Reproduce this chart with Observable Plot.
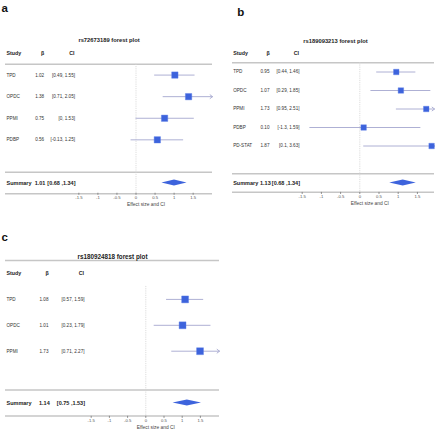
<!DOCTYPE html>
<html><head><meta charset="utf-8">
<script src="https://cdn.jsdelivr.net/npm/d3@7"></script>
<script src="https://cdn.jsdelivr.net/npm/@observablehq/plot@0.6"></script>
<style>
body{margin:0;background:#fff;}
#fig{position:relative;width:440px;height:433px;overflow:hidden;}
#fig > svg{position:absolute;}
</style></head><body><div id="fig"></div>
<script>
// ---------- data ----------
const tickValues = [-1.5, -1, -0.5, 0, 0.5, 1, 1.5];
const axisLabel = "Effect size and CI";

// panel a
const titleA = "rs72673189 forest plot";
const studiesA = ["TPD", "OPDC", "PPMI", "PDBP"];
const betaLabelsA = ["1.02", "1.38", "0.75", "0.56"];
const estA = [1.02, 1.38, 0.75, 0.56];
const loA = [0.49, 0.71, 0, -0.13];
const hiA = [1.55, 2.05, 1.53, 1.25];
const sumTextA = ["1.01", "[0.68 ,1.34]"];
const sumDrawA = [1.01, 0.68, 1.34];

// panel b
const titleB = "rs189093213 forest plot";
const studiesB = ["TPD", "OPDC", "PPMI", "PDBP", "PD-STAT"];
const betaLabelsB = ["0.95", "1.07", "1.73", "0.10", "1.87"];
const estB = [0.95, 1.07, 1.73, 0.10, 1.87];
const loB = [0.44, 0.29, 0.95, -1.3, 0.1];
const hiB = [1.46, 1.85, 2.51, 1.59, 3.63];
const sumTextB = ["1.13", "[0.68 ,1.34]"];
const sumDrawB = [1.13, 0.78, 1.47];

// panel c
const titleC = "rs180924818 forest plot";
const studiesC = ["TPD", "OPDC", "PPMI"];
const betaLabelsC = ["1.08", "1.01", "1.73"];
const estC = [1.08, 1.01, 1.49];
const loC = [0.57, 0.23, 0.71];
const hiC = [1.59, 1.79, 2.27];
const sumTextC = ["1.14", "[0.75 ,1.53]"];
const sumDrawC = [1.14, 0.75, 1.53];

// ---------- drawing ----------
const FONT = "'Liberation Sans', Arial, Helvetica, sans-serif";
const BLUE = "#3d63dc";
const CI_COLOR = "#aeb0d4";
const LINE = "#c6c6c6";

function forest(p, L) {
  const n = p.studies.length;
  const rows = p.studies.map((s, k) => ({
    study: s, i: k + 1, est: p.est[k], lo: p.lo[k], hi: p.hi[k],
    beta: p.betaLabels[k], ci: `[${p.lo[k]}, ${p.hi[k]}]`
  }));
  const sumIdx = n + 2;
  const yTop = 53, yBot = 182.5;
  const step = (yBot - yTop) / (n + 2);
  const xmin = (L.marginLeft - L.zeroPx) / L.unitPx;
  const xmax = (L.width - L.marginRight - L.zeroPx) / L.unitPx;
  const h = 3 / step;
  const [sEst, sLo, sHi] = p.sumDraw;
  const diamond = [
    {y: sumIdx - h, x1: sEst, x2: sEst},
    {y: sumIdx, x1: sLo, x2: sHi},
    {y: sumIdx + h, x1: sEst, x2: sEst}
  ];
  const inside = rows.filter(d => d.hi <= xmax);
  const clipped = rows.filter(d => d.hi > xmax);
  const txt = {fontSize: 4.6, fill: "#333"};
  const hdr = {fontSize: 5.3, fontWeight: "bold", fill: "#222"};
  const sum = {fontSize: 5.5, fontWeight: "bold", fill: "#222"};
  const chart = Plot.plot({
    width: L.width, height: L.height,
    marginLeft: L.marginLeft, marginRight: L.marginRight,
    marginTop: 0, marginBottom: L.marginBottom,
    style: {fontFamily: FONT, background: "transparent", overflow: "visible"},
    x: {domain: [xmin, xmax]},
    y: {type: "linear", domain: [0, n + 2], range: [yTop, yBot], axis: null},
    marks: [
      Plot.ruleY([L.topLine, n + 1.5, n + 2.5], {stroke: LINE, strokeWidth: 1.4}),
      Plot.ruleX([0], {y1: 0.5, y2: n + 2.5, stroke: "#d4d4d4", strokeWidth: 0.8, strokeDasharray: "1.2,1"}),
      Plot.ruleY(inside, {y: "i", x1: "lo", x2: "hi", stroke: CI_COLOR, strokeWidth: 1}),
      Plot.arrow(clipped, {x1: "lo", y1: "i", x2: () => xmax, y2: "i", bend: 0,
        headLength: 4.5, headAngle: 75, stroke: CI_COLOR, strokeWidth: 1}),
      Plot.dot(rows, {x: "est", y: "i", symbol: "square", r: L.r, fill: BLUE, stroke: "#5b7fe8", strokeWidth: 0.4}),
      Plot.areaX(diamond, {y: "y", x1: "x1", x2: "x2", fill: BLUE, curve: "linear"}),
      // header
      Plot.text(["Study"], {y: () => 0, frameAnchor: "left", textAnchor: "start", dx: L.studyDx, ...hdr}),
      Plot.text(["β"], {y: () => 0, frameAnchor: "left", textAnchor: "middle", dx: L.betaDx + 7.5, ...hdr}),
      Plot.text(["CI"], {y: () => 0, frameAnchor: "left", textAnchor: "end", dx: L.ciDx - 0.5, ...hdr}),
      // rows
      Plot.text(rows, {y: "i", text: "study", frameAnchor: "left", textAnchor: "start", dx: L.studyDx, ...txt}),
      Plot.text(rows, {y: "i", text: "beta", frameAnchor: "left", textAnchor: "start", dx: L.betaDx, ...txt}),
      Plot.text(rows, {y: "i", text: "ci", frameAnchor: "left", textAnchor: "end", dx: L.ciDx, ...txt}),
      // summary
      Plot.text(["Summary"], {y: () => sumIdx, frameAnchor: "left", textAnchor: "start", dx: L.studyDx, ...sum}),
      Plot.text([p.sumText[0]], {y: () => sumIdx, frameAnchor: "left", textAnchor: "start", dx: L.betaDx - 0.5, ...sum}),
      Plot.text([p.sumText[1]], {y: () => sumIdx, frameAnchor: "left", textAnchor: "end", dx: L.ciDx + 0.5, ...sum}),
      // title and panel letter
      Plot.text([p.title], {frameAnchor: "top", dy: L.titleY, dx: L.titleDx, fontSize: L.titleSize, fontWeight: "bold", fill: "#222"}),
      Plot.text([p.letter], {frameAnchor: "top-left", dx: L.letterDx, dy: L.letterY, fontSize: 11.5, fontWeight: "bold", fill: "#111", textAnchor: "start"}),
      // axis
      Plot.axisX({ticks: tickValues, tickFormat: d => String(d), tickSize: 2, tickPadding: 1.1,
        fontSize: 4.2, label: null, stroke: "#888", color: "#555"}),
      Plot.text([axisLabel], {x: () => 0, frameAnchor: "bottom", dy: L.axisLabelDy, dx: 10, fontSize: 4.9, fill: "#444"})
    ]
  });
  chart.style.left = L.left + "px";
  chart.style.top = L.top + "px";
  return chart;
}

const fig = document.getElementById("fig");
fig.appendChild(forest(
  {title: titleA, letter: "a", studies: studiesA, betaLabels: betaLabelsA, est: estA, lo: loA, hi: hiA, sumText: sumTextA, sumDraw: sumDrawA},
  {left: 0, top: 0, width: 215, height: 210, marginLeft: 5, marginRight: 3, marginBottom: 17.25,
   zeroPx: 135.5, unitPx: 38.1, topLine: 0.5, r: 3.6,
   studyDx: 1, betaDx: 29.7, ciDx: 69.5, titleY: 37, titleDx: 0, titleSize: 5.8,
   letterDx: -4, letterY: 3.5, axisLabelDy: 12.6}));
fig.appendChild(forest(
  {title: titleB, letter: "b", studies: studiesB, betaLabels: betaLabelsB, est: estB, lo: loB, hi: hiB, sumText: sumTextB, sumDraw: sumDrawB},
  {left: 220, top: 0, width: 220, height: 210, marginLeft: 12, marginRight: 6, marginBottom: 18.1,
   zeroPx: 139.3, unitPx: 38.4, topLine: 0.5, r: 3.1,
   studyDx: 0.7, betaDx: 28, ciDx: 67, titleY: 38.5, titleDx: 2, titleSize: 5.8,
   letterDx: 4.7, letterY: 7, axisLabelDy: 12.6}));
fig.appendChild(forest(
  {title: titleC, letter: "c", studies: studiesC, betaLabels: betaLabelsC, est: estC, lo: loC, hi: hiC, sumText: sumTextC, sumDraw: sumDrawC},
  {left: 0, top: 220, width: 222, height: 213, marginLeft: 5, marginRight: 3, marginBottom: 17.2,
   zeroPx: 145.3, unitPx: 36.4, topLine: -0.5, r: 3.9,
   studyDx: 1, betaDx: 34, ciDx: 79, titleY: 33.7, titleDx: 0, titleSize: 6.3,
   letterDx: -4, letterY: 12, axisLabelDy: 12.8}));
</script>
</body></html>
